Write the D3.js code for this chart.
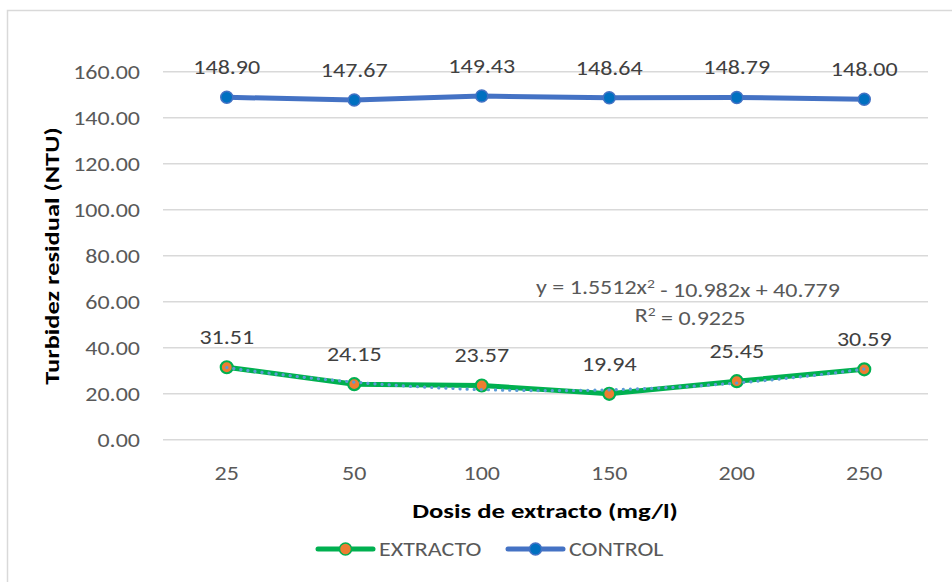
<!DOCTYPE html>
<html>
<head>
<meta charset="utf-8">
<script src="https://cdn.jsdelivr.net/npm/d3@7/dist/d3.min.js"></script>
<style>
  html, body { margin: 0; padding: 0; background: #fff; }
  svg text { font-family: Carlito, Calibri, Lato, sans-serif; }
</style>
</head>
<body>
<svg id="chart" width="952" height="582"></svg>
<script>
// Doses (mg/l) on the category axis
const doses = ["25", "50", "100", "150", "200", "250"];
// Residual turbidity (NTU)
const extracto = [31.51, 24.15, 23.57, 19.94, 25.45, 30.59];
const control = [148.90, 147.67, 149.43, 148.64, 148.79, 148.00];
// Polynomial trend on EXTRACTO: y = a x^2 + b x + c, x = category index 1..6
const trendCoef = [1.5512, -10.982, 40.779];
const trendLabel = ["y = 1.5512x", "2", " - 10.982x + 40.779"];
const r2Label = ["R", "2", " = 0.9225"];
const yTicks = [0, 20, 40, 60, 80, 100, 120, 140, 160];

const svg = d3.select("#chart");
const textColor = "#595959";
const gridColor = "#d9d9d9";
const SX = 1.2;   // horizontal widening of the text glyphs

// outer chart frame
svg.append("rect")
  .attr("x", 7.5).attr("y", 10.5)
  .attr("width", 960).attr("height", 600)
  .attr("fill", "#fff").attr("stroke", "#d9d9d9").attr("stroke-width", 1.5);

const plot = { left: 163, right: 928, top: 71.7, bottom: 439.7 };

const x = d3.scaleBand().domain(doses).range([plot.left, plot.right]);
const y = d3.scaleLinear().domain([0, 160]).range([plot.bottom, plot.top]);
const cx = d => x(d) + x.bandwidth() / 2;

// text placed at (px,py), widened horizontally around its anchor
function addText(parent, px, py, str, opts = {}) {
  return parent.append("text")
    .attr("transform", `translate(${px},${py}) ${opts.rotate ? "rotate(-90) " : ""}scale(${opts.sx || SX},1)`)
    .attr("dy", "0.35em")
    .attr("text-anchor", opts.anchor || "middle")
    .attr("fill", opts.fill || textColor)
    .style("font-size", (opts.size || 20) + "px")
    .style("font-weight", opts.bold ? "bold" : null)
    .text(str);
}

// horizontal gridlines
svg.append("g").selectAll("line").data(yTicks).join("line")
  .attr("x1", plot.left).attr("x2", plot.right)
  .attr("y1", d => y(d)).attr("y2", d => y(d))
  .attr("stroke", gridColor).attr("stroke-width", 1.5);

// y axis labels
const yAxis = d3.axisLeft(y).tickValues(yTicks).tickFormat(d3.format(".2f")).tickSize(0).tickPadding(0);
const gy = svg.append("g").attr("transform", `translate(140,0)`).call(yAxis);
gy.select(".domain").remove();
gy.selectAll("text").attr("fill", textColor).style("font-size", "20px")
  .attr("x", 0).attr("dy", "0.35em").attr("transform", `scale(${SX},1)`);

// x axis labels
const xAxis = d3.axisBottom(x).tickSize(0).tickPadding(0);
const gx = svg.append("g").attr("transform", `translate(0,${473})`).call(xAxis);
gx.select(".domain").remove();
gx.selectAll("text").attr("fill", textColor).style("font-size", "20px")
  .attr("y", 0).attr("dy", "0.35em").attr("transform", `scale(${SX},1)`);

// axis titles
addText(svg, 52, 256, "Turbidez residual (NTU)", { rotate: true, bold: true, size: 21, sx: 1.26, fill: "#000" });
addText(svg, 545, 511, "Dosis de extracto (mg/l)", { bold: true, size: 21, sx: 1.27, fill: "#000" });

const line = d3.line().x((d, i) => cx(doses[i])).y(d => y(d));

// CONTROL series
svg.append("path").datum(control)
  .attr("d", line).attr("fill", "none")
  .attr("stroke", "#4472c4").attr("stroke-width", 5).attr("stroke-linejoin", "round");
svg.append("g").selectAll("circle").data(control).join("circle")
  .attr("cx", (d, i) => cx(doses[i])).attr("cy", d => y(d)).attr("r", 6)
  .attr("fill", "#0070c0").attr("stroke", "#4472c4").attr("stroke-width", 1.5);

// EXTRACTO series
svg.append("path").datum(extracto)
  .attr("d", line).attr("fill", "none")
  .attr("stroke", "#00b050").attr("stroke-width", 5).attr("stroke-linejoin", "round");
svg.append("g").selectAll("circle").data(extracto).join("circle")
  .attr("cx", (d, i) => cx(doses[i])).attr("cy", d => y(d)).attr("r", 6)
  .attr("fill", "#ed7d31").attr("stroke", "#00b050").attr("stroke-width", 2.2);

// polynomial trendline, sampled along the category index, drawn over the markers
const xIdx = d3.scaleLinear().domain([1, doses.length]).range([cx(doses[0]), cx(doses[doses.length - 1])]);
const trendPts = d3.range(1, doses.length + 0.001, 0.05)
  .map(t => [t, trendCoef[0] * t * t + trendCoef[1] * t + trendCoef[2]]);
svg.append("path").datum(trendPts)
  .attr("d", d3.line().x(d => xIdx(d[0])).y(d => y(d[1])))
  .attr("fill", "none").attr("stroke", "#5b9bd5").attr("stroke-width", 3.2)
  .attr("stroke-dasharray", "0.1 7").attr("stroke-linecap", "round");

// data labels
function labels(values) {
  const g = svg.append("g");
  values.forEach((v, i) => addText(g, cx(doses[i]), y(v) - 30, d3.format(".2f")(v), { fill: "#404040" }));
}
labels(control);
labels(extracto);

// trendline equation
function supText(xp, yp, parts) {
  const t = addText(svg, xp, yp, null);
  t.append("tspan").text(parts[0]);
  t.append("tspan").attr("dy", "-0.45em").style("font-size", "13px").text(parts[1]);
  t.append("tspan").attr("dy", "0.45em").text(parts[2]);
}
supText(688, 287, trendLabel);
supText(690, 315, r2Label);

// legend
const legend = [
  { name: "EXTRACTO", line: "#00b050", fill: "#ed7d31", stroke: "#00b050", x: 318 },
  { name: "CONTROL", line: "#4472c4", fill: "#0070c0", stroke: "#4472c4", x: 508 }
];
const lg = svg.append("g").selectAll("g").data(legend).join("g")
  .attr("transform", d => `translate(${d.x},549)`);
lg.append("line").attr("x1", 0).attr("x2", 55).attr("y1", 0).attr("y2", 0)
  .attr("stroke", d => d.line).attr("stroke-width", 5).attr("stroke-linecap", "round");
lg.append("circle").attr("cx", 27.5).attr("cy", 0).attr("r", 6)
  .attr("fill", d => d.fill).attr("stroke", d => d.stroke).attr("stroke-width", 1.5);
lg.each(function (d) { addText(d3.select(this), 61, 0, d.name, { anchor: "start" }); });
</script>
</body>
</html>
